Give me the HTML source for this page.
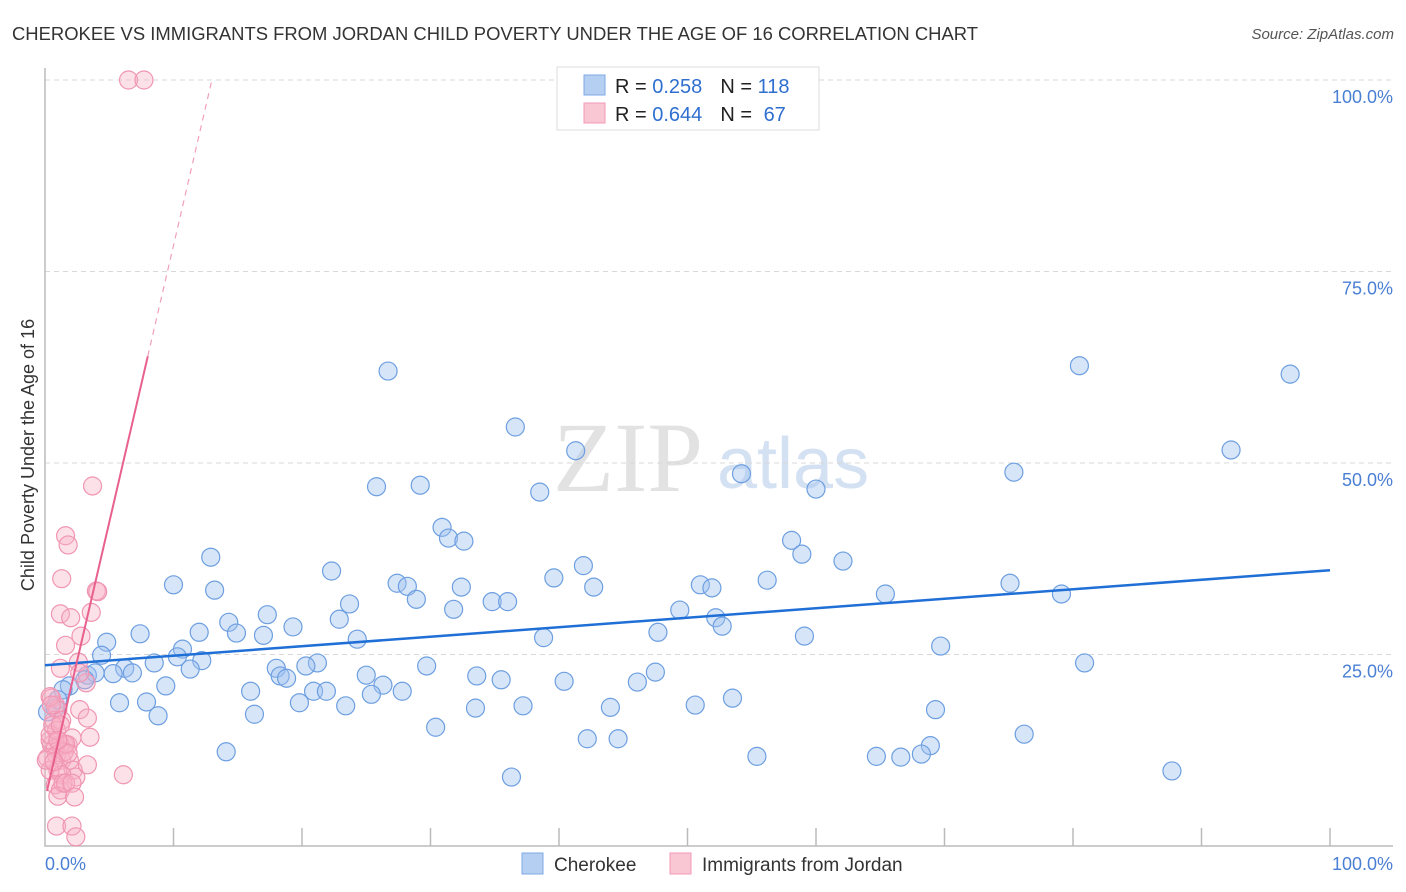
<!DOCTYPE html>
<html><head><meta charset="utf-8">
<style>
body{margin:0;background:#fff;}
svg{display:block;font-family:"Liberation Sans",sans-serif;}
</style></head>
<body>
<svg id="chart" width="1406" height="892">
<text x="12" y="40" font-size="18" fill="#333" textLength="966" lengthAdjust="spacingAndGlyphs">CHEROKEE VS IMMIGRANTS FROM JORDAN CHILD POVERTY UNDER THE AGE OF 16 CORRELATION CHART</text>
<text x="1394" y="39" font-size="15" fill="#555" font-style="italic" text-anchor="end">Source: ZipAtlas.com</text>
<g>
<text x="553" y="491" font-size="100" font-family="Liberation Serif,serif" fill="#e2e2e2">ZIP</text>
<text x="717" y="488" font-size="72" fill="#d3e1f3">atlas</text>
</g>
<g id="grid"></g>
<g id="axes"></g>
<g id="marks"></g>
<text transform="translate(34,455) rotate(-90)" font-size="18" fill="#333" text-anchor="middle">Child Poverty Under the Age of 16</text>
<g>
<rect x="557" y="67" width="262" height="63" fill="#fff" stroke="#ddd"/>
<rect x="584" y="75" width="21" height="20" fill="#b5cff3" stroke="#7fa8e4"/>
<rect x="584" y="103" width="21" height="20" fill="#f9c6d4" stroke="#f19ab5"/>
<text x="615" y="93" font-size="20" fill="#222">R = <tspan fill="#2f6fd0">0.258</tspan><tspan dx="18">N = </tspan><tspan fill="#2f6fd0">118</tspan></text>
<text x="615" y="121" font-size="20" fill="#222">R = <tspan fill="#2f6fd0">0.644</tspan><tspan dx="18">N = </tspan><tspan fill="#2f6fd0" dx="6">67</tspan></text>
</g>
<g>
<rect x="522" y="853" width="21" height="21" fill="#b5cff3" stroke="#7fa8e4"/>
<text x="554" y="871" font-size="19" fill="#333">Cherokee</text>
<rect x="670" y="853" width="21" height="21" fill="#f9c6d4" stroke="#f19ab5"/>
<text x="702" y="871" font-size="19" fill="#333">Immigrants from Jordan</text>
</g>
</svg>
<script>
const yTicks=[25,50,75,100];
const yTickLabels=["25.0%","50.0%","75.0%","100.0%"];
const xTicks=[0,10,20,30,40,50,60,70,80,90,100];
const blueX=[26.7,36.6,41.3,54.2,80.5,96.9,92.3,75.4,25.8,29.2,38.5,60.0,30.9,31.4,32.6,58.1,58.9,62.1,12.9,22.3,10.0,13.2,27.4,28.2,28.9,32.4,39.6,41.9,42.7,51.0,51.9,56.2,65.4,75.1,79.1,23.7,22.9,31.8,34.8,36.0,17.3,14.3,12.0,14.9,17.0,19.3,24.3,38.8,47.7,49.4,52.2,52.7,59.1,69.7,4.8,7.4,4.4,10.7,12.2,10.3,8.5,6.2,11.3,21.2,20.3,18.0,18.3,18.8,25.0,26.3,29.7,33.6,35.5,40.4,46.1,47.5,80.9,3.3,3.9,5.3,6.8,1.9,1.4,9.4,16.0,20.9,21.9,25.4,27.8,19.8,23.4,33.5,37.2,44.0,50.6,53.5,69.3,5.8,7.9,8.8,16.3,30.4,42.2,44.6,76.2,68.9,14.1,55.4,64.7,66.6,68.2,36.3,87.7,1.0,0.8,0.2,3.1];
const blueY=[62.0,54.7,51.6,48.6,62.7,61.6,51.7,48.8,46.9,47.1,46.2,46.6,41.6,40.2,39.8,39.9,38.1,37.2,37.7,35.9,34.1,33.4,34.3,33.9,32.2,33.8,35.0,36.6,33.8,34.1,33.7,34.7,32.9,34.3,32.9,31.6,29.6,30.9,31.9,31.9,30.2,29.2,27.9,27.8,27.5,28.6,27.0,27.2,27.9,30.8,29.8,28.7,27.4,26.1,26.6,27.7,24.9,25.7,24.2,24.7,23.9,23.2,23.1,23.9,23.5,23.2,22.2,21.9,22.3,21.0,23.5,22.2,21.7,21.5,21.4,22.7,23.9,22.3,22.6,22.5,22.6,20.9,20.4,20.9,20.2,20.2,20.2,19.8,20.2,18.7,18.3,18.0,18.3,18.1,18.4,19.3,17.8,18.7,18.8,17.0,17.2,15.5,14.0,14.0,14.6,13.1,12.3,11.7,11.7,11.6,12.0,9.0,9.8,19.1,18.0,17.5,21.7];
const pinkX=[6.5,7.7,3.7,1.6,1.8,1.3,4.0,4.1,3.6,1.2,2.0,2.8,1.6,1.2,2.6,0.5,0.8,1.0,0.4,3.2,2.7,0.7,1.3,1.5,0.5,2.7,3.3,3.5,0.4,0.8,1.2,1.8,2.1,0.2,0.9,1.3,1.9,2.2,1.0,0.4,2.4,1.3,3.3,6.1,0.8,1.2,1.4,1.0,1.6,2.1,2.3,0.9,2.1,2.4,0.4,0.9,0.6,1.2,1.5,1.6,1.8,0.1,0.7,1.0,0.5];
const pinkY=[100,100,47.0,40.5,39.3,34.9,33.3,33.2,30.5,30.3,29.8,27.4,26.2,23.2,24.0,19.3,18.4,17.8,19.5,21.3,22.6,16.4,16.4,13.2,13.2,17.8,16.7,14.2,13.8,12.8,13.2,13.2,14.1,11.5,11.9,11.2,11.2,9.9,9.9,9.9,9.0,9.3,10.6,9.3,8.0,7.3,8.2,6.5,8.2,8.2,6.4,2.6,2.6,1.2,14.5,15.1,15.8,15.8,12.3,13.3,12.1,11.2,11.0,13.8,18.4];
const blueTrend=[23.6,36.0];
const pinkTrend={intercept:6.1,slope:7.23,solidEnd:8.0,dashEnd:13.0};

const NS="http://www.w3.org/2000/svg";
const X0=45,X1=1330,Y0=846,Y1=80;
function sx(v){return X0+(X1-X0)*v/100;}
function sy(v){return Y0-(Y0-Y1)*v/100;}
function mk(tag,attrs,parent){const e=document.createElementNS(NS,tag);for(const k in attrs)e.setAttribute(k,attrs[k]);parent.appendChild(e);return e;}
const grid=document.getElementById('grid'),axes=document.getElementById('axes'),marks=document.getElementById('marks');
yTicks.forEach((t,i)=>{
  const l=mk('line',{x1:X0,x2:1393,y1:sy(t),y2:sy(t),stroke:'#d8d8d8','stroke-dasharray':'5,4'},grid);
  
  
  const tx=mk('text',{x:1393,y:sy(t)+23,'font-size':18,fill:'#4a7fd4','text-anchor':'end'},axes);
  tx.textContent=yTickLabels[i];
  
  
});
const ax=mk('path',{d:`M${X0},68V${Y0}H1393`,stroke:'#bbb',fill:'none','stroke-width':1.5},axes);


xTicks.forEach(t=>{if(t===0)return;
  const l=mk('line',{x1:sx(t),x2:sx(t),y1:Y0,y2:Y0-18,stroke:'#bbb','stroke-width':1.5},axes);
  
  
});
const xl0=mk('text',{x:45,y:870,'font-size':18,fill:'#4a7fd4'},axes);xl0.textContent='0.0%';


const xl1=mk('text',{x:1393,y:870,'font-size':18,fill:'#4a7fd4','text-anchor':'end'},axes);xl1.textContent='100.0%';



blueX.forEach((v,i)=>{
  const c=mk('circle',{cx:sx(v),cy:sy(blueY[i]),r:9,fill:'rgba(160,194,240,0.42)',stroke:'#6d9fe0','stroke-width':1.2},marks);
  
  
});
pinkX.forEach((v,i)=>{
  const c=mk('circle',{cx:sx(v),cy:sy(pinkY[i]),r:9,fill:'rgba(248,176,198,0.38)',stroke:'#f095b2','stroke-width':1.2},marks);
  
  
});
const bl=mk('line',{x1:sx(0),y1:sy(blueTrend[0]),x2:sx(100),y2:sy(blueTrend[1]),stroke:'#1f6fd6','stroke-width':2.5},marks);


const pf=x=>pinkTrend.intercept+pinkTrend.slope*x;
const pl=mk('line',{x1:sx(0.15),y1:sy(pf(0.15)),x2:sx(pinkTrend.solidEnd),y2:sy(pf(pinkTrend.solidEnd)),stroke:'#e8608e','stroke-width':2},marks);


const pd=mk('line',{x1:sx(pinkTrend.solidEnd),y1:sy(pf(pinkTrend.solidEnd)),x2:sx(pinkTrend.dashEnd),y2:sy(pf(pinkTrend.dashEnd)),stroke:'#f0a0b8','stroke-width':1.2,'stroke-dasharray':'6,5'},marks);


</script>
</body></html>
